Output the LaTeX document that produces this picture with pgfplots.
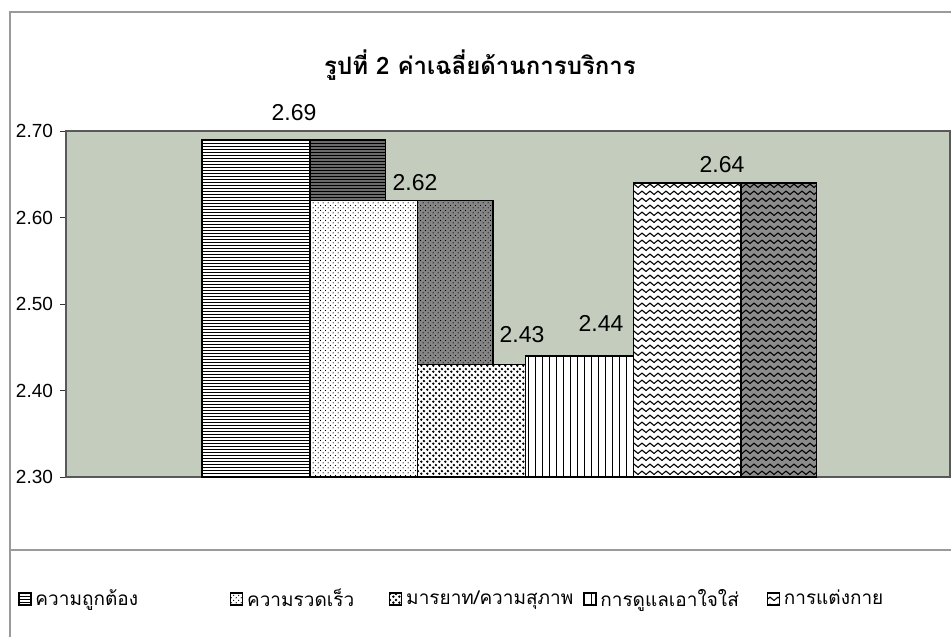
\documentclass[border=0pt]{standalone}
\usepackage{pgfplots}
\pgfplotsset{compat=1.18}
\usepackage{fontspec}
\setmainfont{Liberation Sans}
\newfontfamily\thai[Script=Thai]{Loma}
\usetikzlibrary{patterns}
\definecolor{plotbg}{HTML}{C4CCBD}
\definecolor{frame}{HTML}{9A9A9A}

\pgfdeclarepatternformonly{hl}{\pgfqpoint{-0.1pt}{-0.1pt}}{\pgfqpoint{1.6pt}{1.6pt}}{\pgfqpoint{1.5pt}{1.5pt}}{%
  \pgfsetlinewidth{0.65pt}%
  \pgfpathmoveto{\pgfqpoint{-0.1pt}{0.75pt}}\pgfpathlineto{\pgfqpoint{1.6pt}{0.75pt}}\pgfusepath{stroke}}
\pgfdeclarepatternformonly{vl}{\pgfqpoint{-0.1pt}{-0.1pt}}{\pgfqpoint{3.6pt}{3.6pt}}{\pgfqpoint{3.5pt}{3.5pt}}{%
  \pgfsetlinewidth{0.8pt}%
  \pgfpathmoveto{\pgfqpoint{1.75pt}{-0.1pt}}\pgfpathlineto{\pgfqpoint{1.75pt}{3.6pt}}\pgfusepath{stroke}}
\pgfdeclarepatternformonly{fdots}{\pgfqpoint{0pt}{0pt}}{\pgfqpoint{2.4pt}{2.4pt}}{\pgfqpoint{2.4pt}{2.4pt}}{%
  \pgfpathcircle{\pgfqpoint{0.6pt}{0.6pt}}{0.33pt}%
  \pgfpathcircle{\pgfqpoint{1.8pt}{1.8pt}}{0.33pt}\pgfusepath{fill}}
\pgfdeclarepatternformonly{bdots}{\pgfqpoint{0pt}{0pt}}{\pgfqpoint{2.8pt}{2.8pt}}{\pgfqpoint{2.8pt}{2.8pt}}{%
  \pgfpathcircle{\pgfqpoint{0.7pt}{0.7pt}}{0.72pt}%
  \pgfpathcircle{\pgfqpoint{2.1pt}{2.1pt}}{0.72pt}\pgfusepath{fill}}
\pgfdeclarepatternformonly{wave}{\pgfqpoint{-0.1pt}{0pt}}{\pgfqpoint{4.1pt}{3.5pt}}{\pgfqpoint{4pt}{3.5pt}}{%
  \pgfsetlinewidth{0.55pt}%
  \pgfpathmoveto{\pgfqpoint{0pt}{1.6pt}}%
  \pgfpathcurveto{\pgfqpoint{0.7pt}{2.7pt}}{\pgfqpoint{1.3pt}{2.7pt}}{\pgfqpoint{2pt}{1.6pt}}%
  \pgfpathcurveto{\pgfqpoint{2.7pt}{0.5pt}}{\pgfqpoint{3.3pt}{0.5pt}}{\pgfqpoint{4pt}{1.6pt}}%
  \pgfusepath{stroke}}

\begin{document}
\begin{tikzpicture}
\useasboundingbox (0pt,0pt) rectangle (475.5pt,-318.5pt);
\fill[white] (0pt,0pt) rectangle (475.5pt,-318.5pt);
% chart frame
\draw[frame, line width=0.6pt] (5pt,-318.5pt) -- (5pt,-6pt) -- (475.5pt,-6pt);
\draw[frame, line width=0.6pt] (5pt,-275pt) -- (475.5pt,-275pt);
% title
\node[font=\thai\bfseries\fontsize{12}{14}\selectfont] at (240pt,-32.5pt) {รูปที่ 2 ค่าเฉลี่ยด้านการบริการ};

\begin{axis}[
  at={(33pt,-238.5pt)}, anchor=south west,
  scale only axis, width=442pt, height=173pt,
  xmin=-1.7625, xmax=6.438, ymin=2.3, ymax=2.7,
  xtick=\empty,
  ytick={2.3,2.4,2.5,2.6,2.7},
  ytick pos=left,
  yticklabel style={font=\fontsize{9.5}{11}\selectfont, /pgf/number format/.cd, fixed, fixed zerofill, precision=2, assume math mode=true},
  tick align=outside, major tick length=3pt,
  tick style={draw=black!80, line width=0.5pt},
  axis background/.style={fill=plotbg},
  axis line style={draw=gray!70!black, line width=0.6pt},
  clip=false,
  legend columns=5,
  legend cell align=left,
  legend image code/.code={\draw[#1, line width=0.5pt] (0pt,-3pt) rectangle (6pt,3pt);},
  legend style={at={(-0.061,-0.3526)}, anchor=west, draw=none, fill=none,
    font=\thai\fontsize{9.5}{12}\selectfont,
    /tikz/column 2/.style={column sep=44pt},
    /tikz/column 4/.style={column sep=15.5pt},
    /tikz/column 6/.style={column sep=3pt},
    /tikz/column 8/.style={column sep=12pt}},
]
% side faces (drawn first, partly covered by the next bar's front)
\addplot[forget plot, draw=black, line width=0.7pt, preaction={fill=black!58}, pattern=hl]
  coordinates {(0.5,2.3) (0.5,2.69) (1.2,2.69) (1.2,2.3)} --cycle;
\addplot[forget plot, draw=black, line width=0.7pt, preaction={fill=black!48}, pattern=fdots]
  coordinates {(1.5,2.3) (1.5,2.62) (2.2,2.62) (2.2,2.3)} --cycle;
\addplot[forget plot, draw=black, line width=0.7pt, preaction={fill=black!48}, pattern=bdots]
  coordinates {(2.5,2.3) (2.5,2.43) (3.2,2.43) (3.2,2.3)} --cycle;
\addplot[forget plot, draw=black, line width=0.7pt, preaction={fill=black!48}, pattern=vl]
  coordinates {(3.5,2.3) (3.5,2.44) (4.2,2.44) (4.2,2.3)} --cycle;
\addplot[forget plot, draw=black, line width=0.7pt, preaction={fill=black!45}, pattern=wave]
  coordinates {(4.5,2.3) (4.5,2.64) (5.2,2.64) (5.2,2.3)} --cycle;
% front faces
\addplot[draw=black, line width=0.7pt, preaction={fill=white}, pattern=hl]
  coordinates {(-0.5,2.3) (-0.5,2.69) (0.5,2.69) (0.5,2.3)} --cycle;
\addlegendentry{ความถูกต้อง}
\addplot[draw=black, line width=0.7pt, preaction={fill=white}, pattern=fdots]
  coordinates {(0.5,2.3) (0.5,2.62) (1.5,2.62) (1.5,2.3)} --cycle;
\addlegendentry{ความรวดเร็ว}
\addplot[draw=black, line width=0.7pt, preaction={fill=white}, pattern=bdots]
  coordinates {(1.5,2.3) (1.5,2.43) (2.5,2.43) (2.5,2.3)} --cycle;
\addlegendentry{มารยาท/ความสุภาพ}
\addplot[draw=black, line width=0.7pt, preaction={fill=white}, pattern=vl]
  coordinates {(2.5,2.3) (2.5,2.44) (3.5,2.44) (3.5,2.3)} --cycle;
\addlegendentry{การดูแลเอาใจใส่}
\addplot[draw=black, line width=0.7pt, preaction={fill=white}, pattern=wave]
  coordinates {(3.5,2.3) (3.5,2.64) (4.5,2.64) (4.5,2.3)} --cycle;
\addlegendentry{การแต่งกาย}
% value labels
\addplot[forget plot, draw=none, mark=none, point meta=explicit symbolic,
  nodes near coords, every node near coord/.append style={anchor=center, font=\fontsize{11.5}{13}\selectfont}]
  coordinates {(0.353,2.7208)[2.69] (1.475,2.6399)[2.62] (2.468,2.4642)[2.43] (3.200,2.478)[2.44] (4.323,2.6607)[2.64]};
\end{axis}
\end{tikzpicture}
\end{document}
